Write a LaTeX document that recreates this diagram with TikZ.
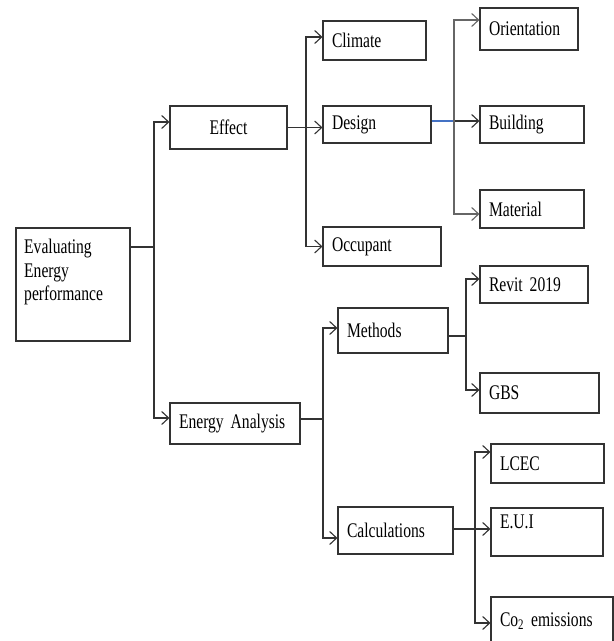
\documentclass[tikz,border=0pt]{standalone}
\usepackage{fontspec}
\setmainfont{Liberation Serif}[FakeStretch=0.75]
\usetikzlibrary{arrows.meta}
\definecolor{wordblue}{RGB}{68,114,196}
\def\boxfont{\fontsize{20.8}{23.5}\selectfont\fontdimen2\font=3.9pt\fontdimen3\font=1.5pt}
\tikzset{
	blk/.style={draw=black!80, line width=1.1pt, fill=white, inner xsep=9pt, inner ysep=0pt, align=left, font=\boxfont},
	wire/.style={draw=black!80, line width=1.1pt},
	arr/.style={wire, -{Straight Barb[length=7pt,width=13pt,line width=1.1pt]}}
}

\begin{document}
\begin{tikzpicture}[x=1pt, y=-1pt]
			%%%%% START %%%%%
			\useasboundingbox (0,0) rectangle (614,641);
			
			\node[blk, minimum width=114pt, minimum height=113pt] (eval) at (73,284.5) {};
			\node[anchor=north west, inner sep=0pt, align=left, font=\boxfont] (evaltxt) at (24,239) {Evaluating\\Energy\\performance};
			
			\node[blk, align=center, minimum width=117pt, minimum height=43pt] (effect) at (228.5,127.5) {Effect};
			\node[blk, text width=112pt, minimum height=41pt] (energy) at (235,423.5) {Energy Analysis};
			
			\node[blk, text width=85pt, minimum height=39pt] (climate) at (374.5,40.5) {Climate};
			\node[blk, text width=90pt, minimum height=37pt] (design) at (377,124.5) {Design};
			\node[blk, text width=100pt, minimum height=39pt] (occupant) at (382,246.5) {Occupant};
			
			\node[blk, text width=80pt, minimum height=42pt] (orient) at (529,29) {Orientation};
			\node[blk, text width=86pt, minimum height=37pt] (building) at (532,124.5) {Building};
			\node[blk, text width=86pt, minimum height=38pt] (material) at (532,209) {Material};
			
			\node[blk, text width=92pt, minimum height=45pt] (methods) at (393,330.5) {Methods};
			\node[blk, text width=97pt, minimum height=47pt] (calc) at (395.5,530.5) {Calculations};
			
			\node[blk, text width=90pt, minimum height=37pt] (revit) at (534,284.5) {Revit 2019};
			\node[blk, text width=101pt, minimum height=40pt] (gbs) at (539.5,393) {GBS};
			
			\node[blk, text width=95pt, minimum height=39pt] (lcec) at (547.5,463.5) {LCEC};
			\node[blk, text width=94pt, minimum height=48pt, text depth=20pt] (eui) at (547,532) {E.U.I};
			\node[blk, text width=104pt, minimum height=48pt] (co2) at (552,621) {Co\textsubscript{2} emissions};
			
			% root
			\coordinate (j0) at (154,247);
			\draw[wire] (eval.east |- j0) -- (j0);
			\draw[arr] (j0) |- ([yshift=5.5pt]effect.west);
			\draw[arr] (j0) |- ([yshift=5.5pt]energy.west);
			
			% effect
			\coordinate (j1) at (306,127.5);
			\draw[arr] (effect.east) -- ([yshift=-3pt]design.west);
			\draw[arr] (j1) |- ([yshift=3.5pt]climate.west);
			\draw[arr] (j1) |- (occupant.west);
			
			% design
			\coordinate (j2) at (454,121);
			\draw[line width=1.1pt, color=wordblue] ([yshift=3.5pt]design.east) -- (j2);
			\draw[arr] (j2) -- ([yshift=3.5pt]building.west);
			\draw[arr, draw=black!60] (j2) |- ([yshift=9pt]orient.west);
			\draw[arr, draw=black!60] (j2) |- ([yshift=-5pt]material.west);
			
			% energy analysis
			\coordinate (j3) at (323,419);
			\draw[wire] ([yshift=4.5pt]energy.east) -- (j3);
			\draw[arr] (j3) |- ([yshift=2.5pt]methods.west);
			\draw[arr] (j3) |- ([yshift=-7.5pt]calc.west);
			
			% methods
			\coordinate (j4) at (466,336);
			\draw[wire] ([yshift=-5.5pt]methods.east) -- (j4);
			\draw[arr] (j4) |- ([yshift=5.5pt]revit.west);
			\draw[arr] (j4) |- ([yshift=3pt]gbs.west);
			
			% calculations
			\coordinate (j5) at (475,529);
			\draw[arr] ([yshift=1.5pt]calc.east) -- ([yshift=3pt]eui.west);
			\draw[arr] (j5) |- ([yshift=11.5pt]lcec.west);
			\draw[arr] (j5) |- ([yshift=-2pt]co2.west);
			
			%%%%% END %%%%%
\end{tikzpicture}
\end{document}
